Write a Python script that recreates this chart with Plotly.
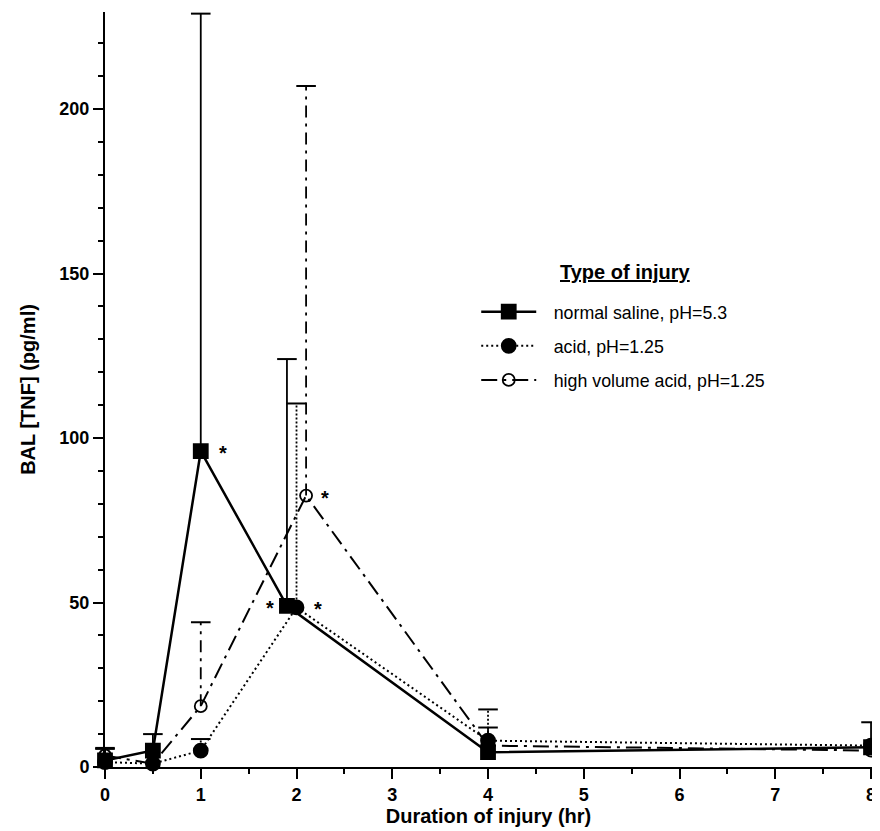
import plotly.graph_objects as go

# ---------------- data ----------------
time_saline = [0, 0.5, 1, 1.9, 4, 8]
tnf_saline = [2, 5, 96, 49, 4.5, 6]
top_saline = [5.8, 10, 229, 124, 12, 13.6]

time_acid = [0, 0.5, 1, 2, 4, 8]
tnf_acid = [1.5, 1, 5, 48.5, 8, 6.5]
top_acid = [None, None, 8.5, 110.5, 17.5, None]

time_hv = [0, 0.5, 1, 2.1, 4, 8]
tnf_hv = [3.5, 1, 18.5, 82.5, 6.5, 5]
top_hv = [5.5, None, 44, 207, None, None]

series_names = ["normal saline, pH=5.3", "acid, pH=1.25", "high volume acid, pH=1.25"]
legend_title = "Type of injury"
x_ticks = [0, 1, 2, 3, 4, 5, 6, 7, 8]
y_ticks = [0, 50, 100, 150, 200]

# points flagged with an asterisk: (series index, point index, pixel shift)
starred = [(0, 2, 22), (0, 3, -17), (1, 3, 21), (2, 3, 19)]

FONT = "Liberation Sans, Arial, Helvetica, sans-serif"

all_x = [time_saline, time_acid, time_hv]
all_y = [tnf_saline, tnf_acid, tnf_hv]
all_top = [top_saline, top_acid, top_hv]
dashes = ["solid", "2px,3px", "16px,6px,3px,6px"]
err_dashes = ["solid", "2px,2px", "12px,6px,3px,6px"]
symbols = ["square", "circle", "circle-open"]
msizes = [14, 14, 12]
lwidths = [2.5, 2, 2]

fig = go.Figure()

# error stems (upper only) built from the data arrays
for i in range(3):
    ex, ey, cx, cy = [], [], [], []
    for xv, yv, tv in zip(all_x[i], all_y[i], all_top[i]):
        if tv is None:
            continue
        ex += [xv, xv, None]
        ey += [yv, tv, None]
        cx.append(xv)
        cy.append(tv)
    fig.add_trace(go.Scatter(
        x=ex, y=ey, mode="lines", showlegend=False, hoverinfo="skip",
        line=dict(color="black", width=1.8, dash=err_dashes[i]),
        cliponaxis=False,
    ))
    fig.add_trace(go.Scatter(
        x=cx, y=cy, mode="markers", showlegend=False, hoverinfo="skip",
        marker=dict(symbol="line-ew", size=14, line=dict(color="black", width=2)),
        cliponaxis=False,
    ))

# main series
for i in range(3):
    fig.add_trace(go.Scatter(
        x=all_x[i], y=all_y[i], mode="lines+markers",
        name="\u2002\u2009" + series_names[i],
        legendgroup=f"g{i}",
        line=dict(color="black", width=lwidths[i], dash=dashes[i]),
        marker=dict(symbol=symbols[i], size=msizes[i], color="black",
                    line=dict(color="black", width=1.8)),
        cliponaxis=False,
    ))

# asterisks
for si, pi, shift in starred:
    fig.add_annotation(
        x=all_x[si][pi], y=all_y[si][pi], text="*", showarrow=False,
        xshift=shift, yshift=-2, font=dict(family=FONT, size=20, color="black", weight="bold"),
    )

# legend heading
fig.add_annotation(
    x=0.678, y=0.656, xref="paper", yref="paper", showarrow=False,
    xanchor="center", yanchor="middle",
    text="<b><u>" + legend_title + "</u></b>",
    font=dict(family=FONT, size=20, color="black"),
)

fig.update_layout(
    width=872, height=823,
    margin=dict(l=97, r=5, t=4, b=64),
    paper_bgcolor="white", plot_bgcolor="white",
    font=dict(family=FONT, color="black"),
    showlegend=True,
    legend=dict(
        x=0.484, y=0.627, xanchor="left", yanchor="top",
        bgcolor="rgba(0,0,0,0)", borderwidth=0,
        font=dict(family=FONT, size=17.8, color="black"),
        itemwidth=55, tracegroupgap=8,
    ),
    xaxis=dict(
        range=[0, 8.01], tickvals=x_ticks, ticktext=[str(v) for v in x_ticks],
        ticklabeloverflow="allow",
        showgrid=False, zeroline=False, showline=True, linecolor="black", linewidth=2,
        ticks="outside", ticklen=10, tickwidth=2, tickcolor="black",
        tickfont=dict(family=FONT, size=18, color="black", weight="bold"),
        minor=dict(dtick=0.5, ticks="outside", ticklen=5, tickwidth=1.5, tickcolor="black"),
        title=dict(text="Duration of injury (hr)", standoff=2,
                   font=dict(family=FONT, size=20, color="black", weight="bold")),
    ),
    yaxis=dict(
        range=[0, 229.5], tickvals=y_ticks, ticktext=[str(v) for v in y_ticks],
        showgrid=False, zeroline=False, showline=True, linecolor="black", linewidth=2,
        ticks="outside", ticklen=10, tickwidth=2, tickcolor="black",
        tickfont=dict(family=FONT, size=18, color="black", weight="bold"),
        minor=dict(dtick=10, ticks="outside", ticklen=5, tickwidth=1.5, tickcolor="black"),
        title=dict(text="BAL [TNF] (pg/ml)", standoff=18,
                   font=dict(family=FONT, size=20, color="black", weight="bold")),
    ),
)

fig.write_html("out.html")
